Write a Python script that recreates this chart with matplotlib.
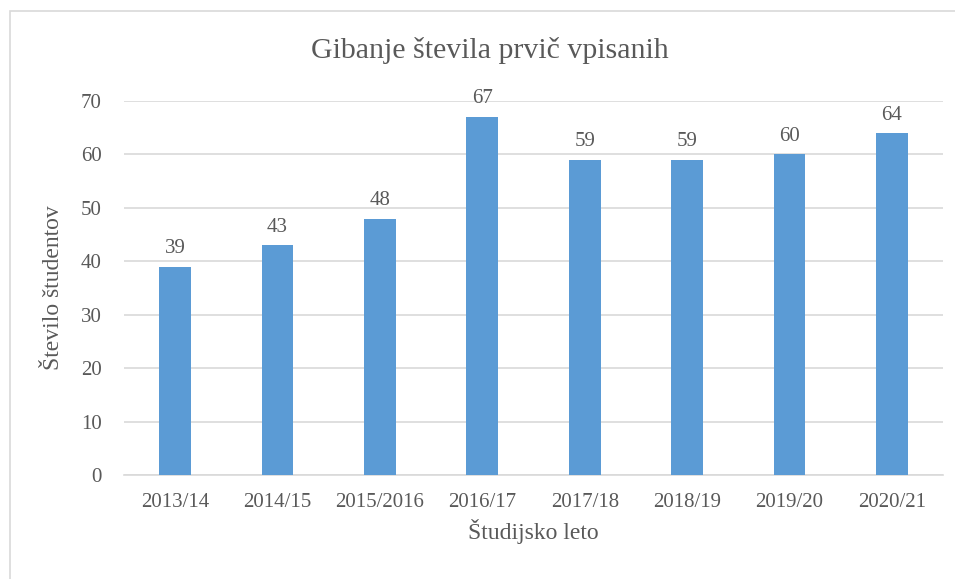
import matplotlib.pyplot as plt
from matplotlib.patches import Rectangle

years = ['2013/14', '2014/15', '2015/2016', '2016/17', '2017/18', '2018/19', '2019/20', '2020/21']
students = [39, 43, 48, 67, 59, 59, 60, 64]

plt.rcParams['font.family'] = ['Liberation Serif', 'DejaVu Serif']
txt = '#595959'

fig = plt.figure(figsize=(9.55, 5.79), dpi=100)
# outer chart border
fig.patches.append(Rectangle((10 / 955, -0.01), 1.0, 1 - 11 / 579 + 0.01, transform=fig.transFigure,
                             fill=False, edgecolor='#D9D9D9', linewidth=1.2))

ax = fig.add_axes([124 / 955, 1 - 475 / 579, (943 - 124) / 955, (475 - 101) / 579])
x = range(len(years))
bars = ax.bar(x, students, width=0.31, color='#5B9BD5', zorder=3)
for xi, v in zip(x, students):
    ax.text(xi, v + 1.6, str(v), ha='center', va='bottom', fontsize=15, color=txt)

ax.set_xlim(-0.5, len(years) - 0.5)
ax.set_ylim(0, 70)
ax.set_yticks(range(0, 71, 10))
ax.set_xticks(list(x))
ax.set_xticklabels(years)
ax.tick_params(axis='both', length=0, labelsize=15, colors=txt)
ax.tick_params(axis='y', pad=16)
ax.tick_params(axis='x', pad=13)
ax.yaxis.grid(True, color='#D9D9D9', linewidth=1.2, zorder=0)
for s in ['top', 'right', 'left']:
    ax.spines[s].set_visible(False)
ax.spines['bottom'].set_color('#D9D9D9')
ax.spines['bottom'].set_linewidth(1.2)

ax.set_xlabel('Študijsko leto', fontsize=17, color=txt, labelpad=5)
ax.set_ylabel('Število študentov', fontsize=17, color=txt, labelpad=12)
fig.text(490 / 955, 1 - 50 / 579, 'Gibanje števila prvič vpisanih', ha='center', va='center',
         fontsize=21.5, color=txt)

fig.savefig('out.png', dpi=100)
